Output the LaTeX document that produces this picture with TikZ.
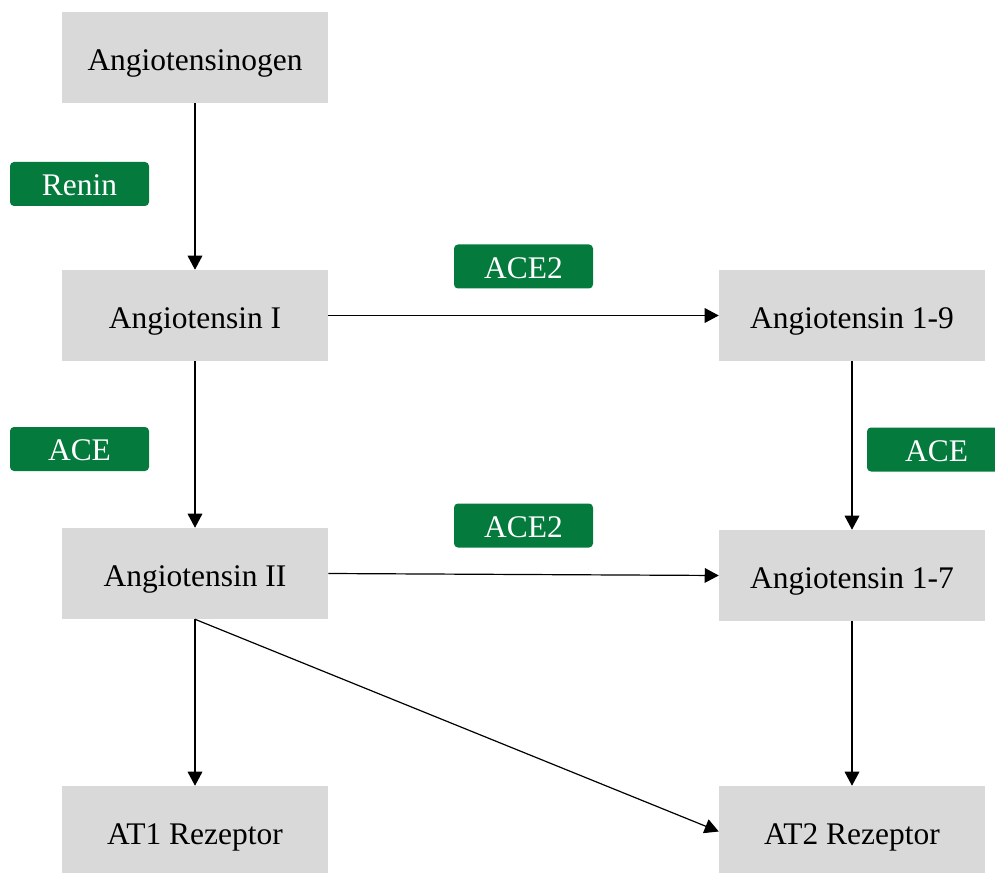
\documentclass[tikz,border=0pt]{standalone}
\usepackage{fontspec}
\setmainfont{Liberation Serif}
\usetikzlibrary{arrows.meta}
\definecolor{boxgray}{HTML}{D9D9D9}
\definecolor{enzgreen}{HTML}{047A3D}
\begin{document}
\begin{tikzpicture}[x=0.75pt,y=-0.75pt,
  substance/.style={fill=boxgray, minimum width=199.5pt, minimum height=68.25pt,
    inner sep=0pt, text height=21pt, text depth=0.8pt,
    font=\fontsize{23.6}{28}\selectfont},
  enzyme/.style={fill=enzgreen, rounded corners=3pt, minimum width=104.25pt,
    minimum height=33pt, inner sep=0pt, text=white, text height=18pt,
    text depth=0.4pt, font=\fontsize{23.6}{28}\selectfont},
  flow/.style={-{Triangle[length=10.5pt,width=11pt]}, line width=0.9pt}]
\useasboundingbox (0,0) rectangle (995,873);
\clip (0,0) rectangle (995,873);

% substances
\node[substance] (agt)  at (195,57.5)  {Angiotensinogen};
\node[substance] (ang1) at (195,315.5) {Angiotensin I};
\node[substance] (ang2) at (195,573.5) {Angiotensin II};
\node[substance] (at1)  at (195,831.5) {AT1 Rezeptor};
\node[substance] (a19)  at (852,315.5) {Angiotensin 1-9};
\node[substance] (a17)  at (852,575.5) {Angiotensin 1-7};
\node[substance] (at2)  at (852,831.5) {AT2 Rezeptor};

% enzymes
\node[enzyme] (renin) at (79.5,184)  {Renin};
\node[enzyme] (aceL)  at (79.5,449)  {ACE};
\node[enzyme] (aceTa) at (523.5,266.5) {ACE2};
\node[enzyme] (aceTb) at (523.5,525.5) {ACE2};
\node[enzyme] (aceR)  at (936.5,449.5) {ACE};

% conversions
\draw[flow] (agt.south) -- (ang1.north);
\draw[flow] (ang1.south) -- (ang2.north);
\draw[flow] (ang1.east) -- (a19.west);
\draw[flow] (ang2.east) -- (a17.west);
\draw[flow] (a19.south) -- (a17.north);
\draw[flow] (a17.south) -- (at2.north);
\draw[flow] (ang2.south) -- (at1.north);
\draw[flow] (ang2.south) -- (at2.west);
\end{tikzpicture}
\end{document}
